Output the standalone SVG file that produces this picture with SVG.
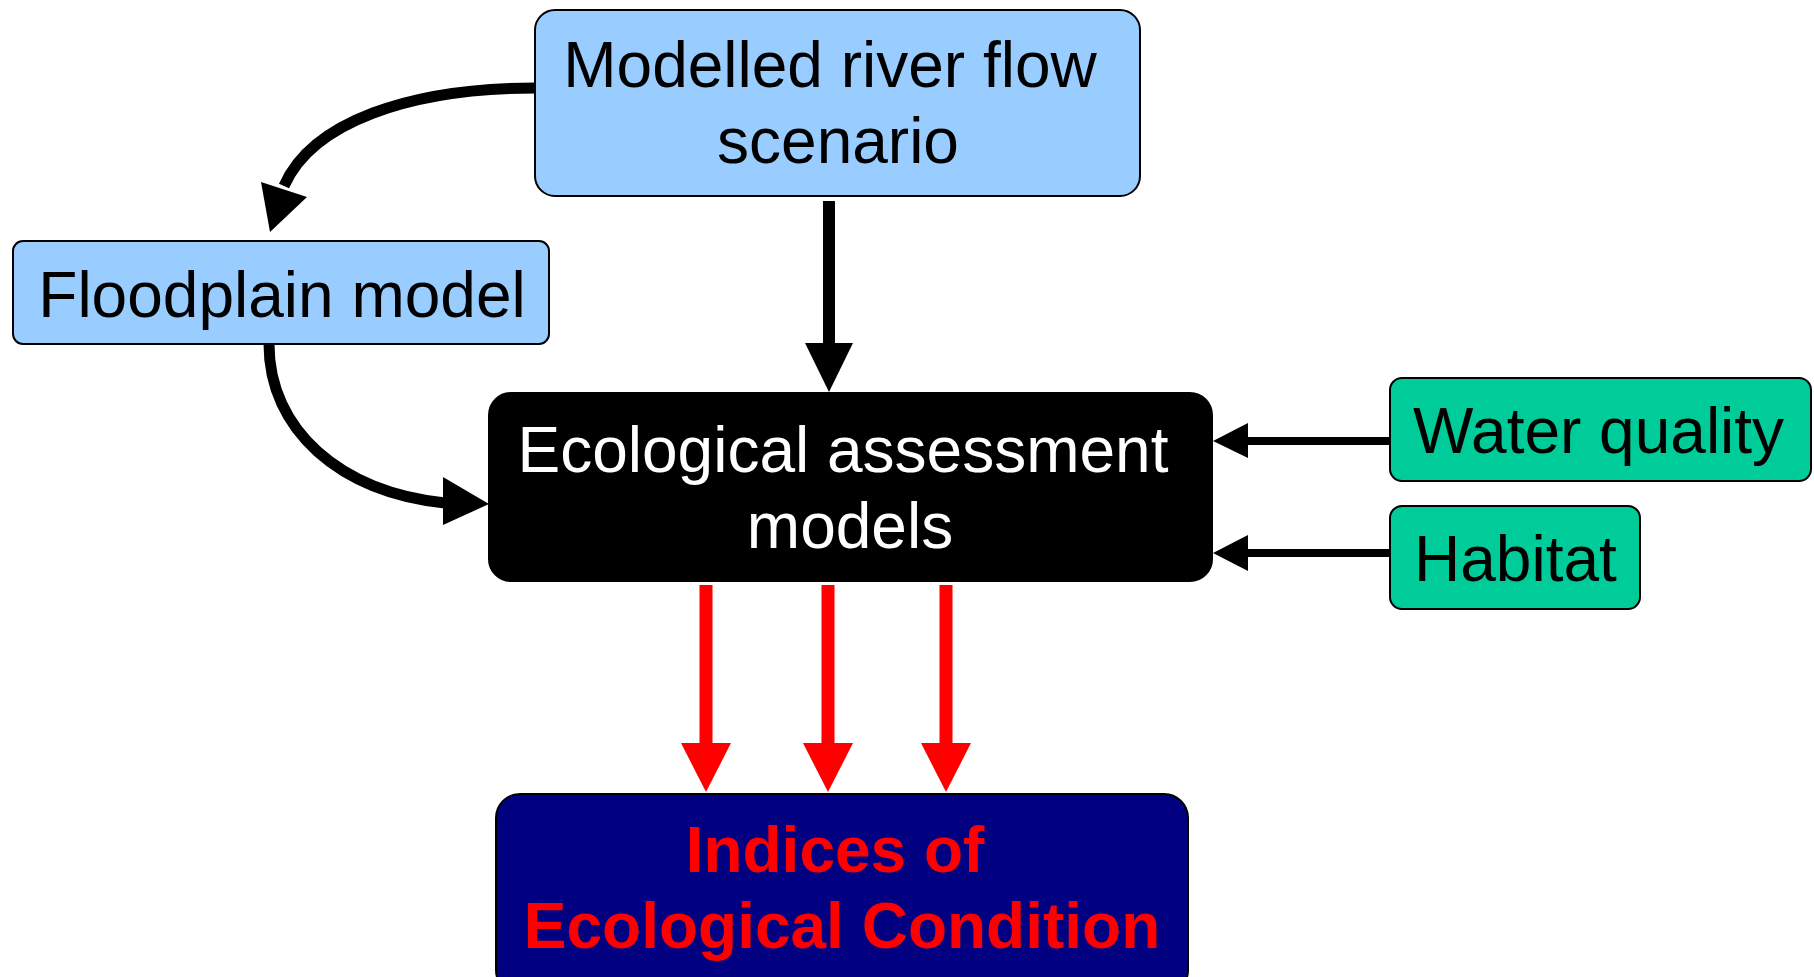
<svg xmlns="http://www.w3.org/2000/svg" width="1814" height="977" viewBox="0 0 1814 977">
<style>
.box{stroke:#000;stroke-width:2}
.t{font-family:"Liberation Sans",Arial,sans-serif;font-size:64px}
.blk{fill:none;stroke:#000}
.red{fill:none;stroke:#f00;stroke-width:13}
</style>
<rect width="1814" height="977" fill="#fff"/>
<g id="connectors">
<path class="blk" stroke-width="11" d="M535 88 C 410 88 312 122 284 186"/>
<polygon points="261,182 307,197 270,232" fill="#000"/>
<path class="blk" stroke-width="12" d="M829 201 L829 345"/>
<polygon points="805,343 853,343 829,392" fill="#000"/>
<path class="blk" stroke-width="11" d="M269 344 C 269 430 340 492 445 503"/>
<polygon points="443,477 443,525 489,504" fill="#000"/>
<path class="blk" stroke-width="8" d="M1390 441 L1246 441"/>
<polygon points="1248,423 1248,458 1213,441" fill="#000"/>
<path class="blk" stroke-width="8" d="M1390 553 L1246 553"/>
<polygon points="1248,535 1248,571 1213,553" fill="#000"/>
<path class="red" d="M706 585 V745"/>
<polygon points="681,743 731,743 706,792" fill="#f00"/>
<path class="red" d="M828 585 V745"/>
<polygon points="803,743 853,743 828,792" fill="#f00"/>
<path class="red" d="M946 585 V745"/>
<polygon points="921,743 971,743 946,792" fill="#f00"/>
</g>
<g id="modelled">
<rect class="box" x="535" y="10" width="605" height="186" rx="20" fill="#99ccff"/>
<text class="t" x="830" y="87" text-anchor="middle">Modelled river flow</text>
<text class="t" x="838" y="163" text-anchor="middle">scenario</text>
</g>
<g id="floodplain">
<rect class="box" x="13" y="241" width="536" height="103" rx="10" fill="#99ccff"/>
<text class="t" x="282" y="317" text-anchor="middle">Floodplain model</text>
</g>
<g id="ecological">
<rect class="box" x="489" y="393" width="723" height="188" rx="22" fill="#000"/>
<text class="t" x="843" y="472" text-anchor="middle" fill="#fff">Ecological assessment</text>
<text class="t" x="850" y="548" text-anchor="middle" fill="#fff">models</text>
</g>
<g id="water">
<rect class="box" x="1390" y="378" width="421" height="103" rx="12" fill="#00cc99"/>
<text class="t" x="1413" y="453">Water quality</text>
</g>
<g id="habitat">
<rect class="box" x="1390" y="506" width="250" height="103" rx="12" fill="#00cc99"/>
<text class="t" x="1414" y="581">Habitat</text>
</g>
<g id="indices">
<rect class="box" x="496" y="794" width="692" height="200" rx="24" fill="#000080"/>
<text class="t" x="835" y="872" text-anchor="middle" fill="#f00" font-weight="bold">Indices of</text>
<text class="t" x="842" y="948" text-anchor="middle" fill="#f00" font-weight="bold">Ecological Condition</text>
</g>
</svg>
